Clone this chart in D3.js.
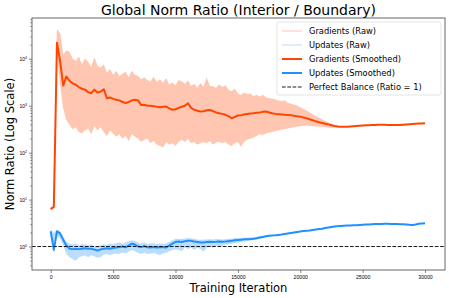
<!DOCTYPE html>
<html>
<head>
<meta charset="utf-8">
<script src="https://cdn.jsdelivr.net/npm/d3@7"></script>
<style>
  body { margin: 0; background: #fff; }
  svg { display: block; font-family: 'DejaVu Sans', sans-serif; }
</style>
</head>
<body>
<svg width="449" height="298"></svg>
<script>
// size of the svg and the plot box
var width = 449, height = 298;
var plotLeft = 32, plotRight = 445, plotTop = 18, plotBottom = 270;

// all series are sampled every 250 iterations, starting at 0
var step = 250;

// smoothed curves (0 .. 30000)
var gradSmooth = [
  6.3, 7, 22000, 9000, 2700, 4200, 3400, 3000, 2800, 2500, 2300, 2200, 1950, 1850, 2200, 1900, 2000, 2250, 1450, 1500,
  1400, 1340, 1300, 1200, 1140, 1200, 1300, 1340, 1300, 1030, 1050, 1000, 1000, 980, 950, 930, 950, 960, 880, 820,
  840, 900, 950, 1000, 1130, 900, 820, 780, 750, 760, 800, 810, 770, 720, 690, 670, 640, 600, 540, 580,
  620, 630, 650, 670, 680, 690, 710, 720, 740, 750, 720, 690, 670, 660, 650, 640, 635, 630, 610, 595,
  585, 560, 540, 515, 490, 465, 445, 430, 415, 400, 385, 370, 360, 355, 355, 358, 362, 366, 370, 374,
  378, 382, 385, 388, 390, 392, 393, 392, 390, 388, 387, 388, 390, 395, 400, 405, 410, 413, 416, 420,
  425
];
var updSmooth = [
  2.1, 0.85, 2.1, 1.9, 1.4, 1.05, 0.9, 0.88, 0.9, 0.88, 0.9, 0.92, 0.9, 0.9, 0.86, 0.82, 0.87, 0.9, 0.92, 0.9,
  0.93, 0.95, 0.98, 1.0, 0.96, 1.05, 1.15, 1.1, 1.0, 0.97, 1.02, 0.96, 0.95, 0.98, 0.95, 0.97, 0.96, 0.95, 1.05, 1.15,
  1.25, 1.28, 1.25, 1.3, 1.33, 1.32, 1.28, 1.25, 1.22, 1.22, 1.25, 1.27, 1.25, 1.26, 1.28, 1.27, 1.28, 1.3, 1.32, 1.36,
  1.38, 1.4, 1.42, 1.43, 1.44, 1.46, 1.5, 1.55, 1.6, 1.65, 1.7, 1.72, 1.74, 1.77, 1.8, 1.85, 1.9, 1.95, 2.0, 2.05,
  2.1, 2.14, 2.17, 2.2, 2.25, 2.3, 2.35, 2.4, 2.47, 2.53, 2.6, 2.66, 2.72, 2.75, 2.77, 2.79, 2.81, 2.83, 2.85, 2.88,
  2.9, 2.93, 2.96, 2.99, 3.02, 3.03, 3.03, 3.04, 3.04, 3.03, 3.03, 3.02, 3.0, 2.97, 2.93, 2.9, 2.89, 2.95, 3.05, 3.1,
  3.15
];

// raw curves, highest and lowest value in each 250-iteration bin
// (after the noise dies out the raw curve sits under the smoothed one)
var gradRawHigh = [
  6.6, 8, 42000, 35000, 12000, 15000, 14000, 10000, 9000, 11000, 7500, 10000, 8500, 6500, 10500, 7000, 6500, 7500, 5000, 6000,
  4500, 5500, 4200, 4800, 5200, 4000, 5500, 4500, 4300, 3600, 4000, 3500, 3300, 4100, 3200, 3600, 3000, 3800, 2800, 3100,
  2700, 3500, 3300, 2900, 3400, 2600, 2900, 2400, 3000, 2500, 3900, 2600, 2600, 2400, 2800, 2500, 2700, 2200, 2000, 2300,
  1800, 1700, 1900, 1750, 1800, 1600, 1700, 1550, 1700, 1500, 1450, 1400, 1350, 1300, 1250, 1300, 1150, 1100, 1050, 1000,
  920, 850, 780, 720, 650, 600, 550, 500, 470, 440, 410, 385, 370, 362, 360
];
var gradRawLow = [
  6.0, 6.3, 15000, 3000, 900, 500, 400, 320, 350, 280, 260, 300, 330, 250, 380, 300, 350, 280, 230, 300,
  260, 220, 250, 200, 230, 180, 250, 220, 200, 170, 190, 200, 160, 180, 150, 140, 130, 170, 150, 160,
  140, 170, 190, 170, 200, 160, 170, 150, 160, 170, 160, 180, 150, 165, 170, 160, 170, 150, 140, 160,
  170, 135, 170, 190, 200, 210, 230, 250, 240, 260, 270, 280, 290, 300, 310, 320, 330, 340, 350, 360,
  370, 375, 380, 375, 370, 365, 360, 355, 350, 345, 345, 345, 348, 350, 350
];
var updRawHigh = [
  2.3, 1.9, 2.3, 2.1, 1.6, 1.25, 1.15, 1.1, 1.15, 1.05, 1.12, 1.1, 1.05, 1.1, 1.0, 0.98, 1.05, 1.1, 1.08, 1.15,
  1.12, 1.18, 1.2, 1.15, 1.2, 1.3, 1.35, 1.3, 1.2, 1.15, 1.22, 1.12, 1.15, 1.18, 1.12, 1.15, 1.12, 1.15, 1.25, 1.35,
  1.45, 1.45, 1.42, 1.48, 1.5, 1.48, 1.45, 1.4, 1.38, 1.4, 1.4, 1.42, 1.4, 1.42, 1.42, 1.4, 1.42, 1.45, 1.46, 1.5,
  1.5, 1.52, 1.53, 1.54, 1.55, 1.56, 1.6, 1.63, 1.67, 1.7, 1.74, 1.75, 1.76
];
var updRawLow = [
  1.9, 0.75, 1.7, 1.5, 1.1, 0.7, 0.6, 0.55, 0.5, 0.6, 0.62, 0.65, 0.6, 0.66, 0.62, 0.58, 0.6, 0.68, 0.7, 0.66,
  0.7, 0.72, 0.7, 0.75, 0.72, 0.78, 0.85, 0.8, 0.74, 0.7, 0.75, 0.7, 0.72, 0.74, 0.7, 0.66, 0.72, 0.75, 0.8, 0.85,
  0.88, 0.85, 0.8, 0.95, 0.9, 0.95, 0.85, 0.95, 0.9, 0.78, 0.95, 1.0, 0.95, 1.05, 1.0, 1.05, 1.1, 1.12, 1.15, 1.2,
  1.22, 1.25, 1.3, 1.32, 1.35, 1.38, 1.42, 1.48, 1.54, 1.6, 1.66, 1.7, 1.72
];

var xTicks = [0, 5000, 10000, 15000, 20000, 25000, 30000];
var yTicks = [1, 10, 100, 1000, 10000];

var legendLabels = ['Gradients (Raw)', 'Updates (Raw)', 'Gradients (Smoothed)', 'Updates (Smoothed)', 'Perfect Balance (Ratio = 1)'];

var orange = '#ff4500', blue = '#1e90ff';

var svg = d3.select('svg');

var x = d3.scaleLinear().domain([-1500, 31600]).range([plotLeft, plotRight]);
var y = d3.scaleLog().domain([0.316, 74000]).range([plotBottom, plotTop]);

function series(values) {
  return values.map(function(v, i) { return {it: i * step, v: v}; });
}

function band(high, low) {
  return high.map(function(v, i) { return {it: i * step, hi: v, lo: low[i]}; });
}

var line = d3.line()
  .x(function(d) { return x(d.it); })
  .y(function(d) { return y(d.v); });

var area = d3.area()
  .x(function(d) { return x(d.it); })
  .y0(function(d) { return y(d.lo); })
  .y1(function(d) { return y(d.hi); });

var plot = svg.append('g');

plot.append('path')
  .datum(band(gradRawHigh, gradRawLow))
  .attr('d', area)
  .attr('fill', orange)
  .attr('fill-opacity', 0.3)
  .attr('stroke', orange)
  .attr('stroke-opacity', 0.12)
  .attr('stroke-width', 0.6);

plot.append('path')
  .datum(band(updRawHigh, updRawLow))
  .attr('d', area)
  .attr('fill', blue)
  .attr('fill-opacity', 0.3)
  .attr('stroke', blue)
  .attr('stroke-opacity', 0.12)
  .attr('stroke-width', 0.6);

plot.append('path')
  .datum(series(gradSmooth))
  .attr('d', line)
  .attr('fill', 'none')
  .attr('stroke', orange)
  .attr('stroke-width', 2)
  .attr('stroke-linejoin', 'round');

plot.append('path')
  .datum(series(updSmooth))
  .attr('d', line)
  .attr('fill', 'none')
  .attr('stroke', blue)
  .attr('stroke-width', 2)
  .attr('stroke-linejoin', 'round');

// ratio = 1
plot.append('line')
  .attr('x1', plotLeft).attr('x2', plotRight)
  .attr('y1', y(1)).attr('y2', y(1))
  .attr('stroke', '#000')
  .attr('stroke-width', 0.9)
  .attr('stroke-dasharray', '3.7,1.6');

// axes
var xAxis = d3.axisBottom(x).tickValues(xTicks).tickSize(3).tickPadding(2).tickFormat(d3.format('d'));
var gx = svg.append('g').attr('transform', 'translate(0,' + plotBottom + ')').call(xAxis);
gx.select('.domain').remove();
gx.selectAll('text').attr('font-size', 5.2).attr('fill', '#000');
gx.selectAll('line').attr('stroke', '#333').attr('stroke-width', 0.6);

var minor = [];
[0.1, 1, 10, 100, 1000, 10000].forEach(function(p) {
  for (var k = 2; k <= 9; k++) {
    var v = p * k;
    if (v >= y.domain()[0] && v <= y.domain()[1]) minor.push(v);
  }
});

var gyMinor = svg.append('g').attr('transform', 'translate(' + plotLeft + ',0)')
  .call(d3.axisLeft(y).tickValues(minor).tickSize(1.8).tickFormat(''));
gyMinor.select('.domain').remove();
gyMinor.selectAll('line').attr('stroke', '#333').attr('stroke-width', 0.5);

var gy = svg.append('g').attr('transform', 'translate(' + plotLeft + ',0)')
  .call(d3.axisLeft(y).tickValues(yTicks).tickSize(3).tickFormat(''));
gy.select('.domain').remove();
gy.selectAll('line').attr('stroke', '#333').attr('stroke-width', 0.6);

gy.selectAll('.tick').append('text')
  .attr('x', -5)
  .attr('dy', '0.35em')
  .attr('text-anchor', 'end')
  .attr('font-size', 5)
  .attr('fill', '#000')
  .each(function(d) {
    var t = d3.select(this);
    t.append('tspan').text('10');
    t.append('tspan').attr('dy', -2).attr('font-size', 3.5).text(Math.round(Math.log10(d)));
  });

// frame
svg.append('rect')
  .attr('x', plotLeft).attr('y', plotTop)
  .attr('width', plotRight - plotLeft).attr('height', plotBottom - plotTop)
  .attr('fill', 'none')
  .attr('stroke', '#666')
  .attr('stroke-width', 1);

// texts
svg.append('text')
  .attr('x', (plotLeft + plotRight) / 2).attr('y', 15)
  .attr('text-anchor', 'middle')
  .attr('font-size', 14)
  .text('Global Norm Ratio (Interior / Boundary)');

svg.append('text')
  .attr('x', (plotLeft + plotRight) / 2).attr('y', 292)
  .attr('text-anchor', 'middle')
  .attr('font-size', 11.5)
  .text('Training Iteration');

svg.append('text')
  .attr('transform', 'translate(14,' + (plotTop + plotBottom) / 2 + ') rotate(-90)')
  .attr('text-anchor', 'middle')
  .attr('font-size', 11.5)
  .text('Norm Ratio (Log Scale)');

// legend
var legend = svg.append('g').attr('transform', 'translate(277,22)');
legend.append('rect')
  .attr('width', 164).attr('height', 73)
  .attr('rx', 2)
  .attr('fill', '#fff').attr('fill-opacity', 0.8)
  .attr('stroke', '#ddd').attr('stroke-width', 0.8);

var styles = [
  {color: orange, op: 0.3, w: 1, dash: null},
  {color: blue, op: 0.3, w: 1, dash: null},
  {color: orange, op: 1, w: 2, dash: null},
  {color: blue, op: 1, w: 2, dash: null},
  {color: '#000', op: 1, w: 0.9, dash: '3.7,1.6'}
];

var items = legend.selectAll('g.item')
  .data(legendLabels)
  .enter().append('g')
  .attr('class', 'item')
  .attr('transform', function(d, i) { return 'translate(0,' + (9 + i * 14) + ')'; });

items.append('line')
  .attr('x1', 5).attr('x2', 25)
  .attr('stroke', function(d, i) { return styles[i].color; })
  .attr('stroke-opacity', function(d, i) { return styles[i].op; })
  .attr('stroke-width', function(d, i) { return styles[i].w; })
  .attr('stroke-dasharray', function(d, i) { return styles[i].dash; });

items.append('text')
  .attr('x', 32)
  .attr('dy', '0.35em')
  .attr('font-size', 8.3)
  .text(function(d) { return d; });
</script>
</body>
</html>
